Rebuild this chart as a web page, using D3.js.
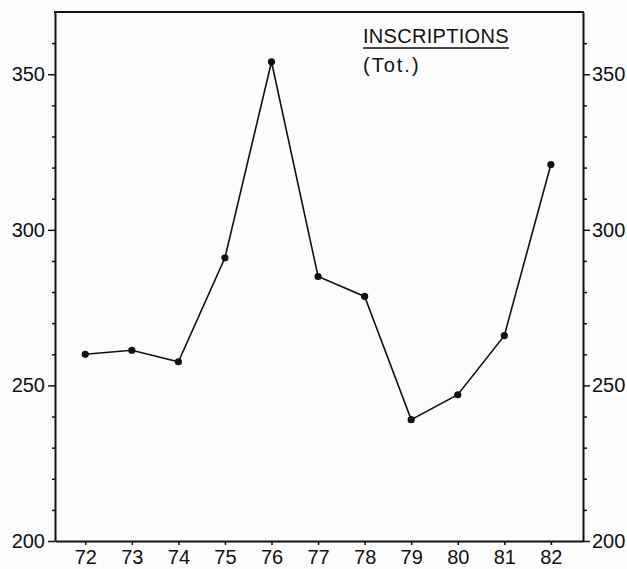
<!DOCTYPE html>
<html>
<head>
<meta charset="utf-8">
<script src="https://cdn.jsdelivr.net/npm/d3@7"></script>
<style>
  body { margin: 0; background: #fcfcfc; }
  svg { display: block; }
</style>
</head>
<body>
<script>
const years = [72, 73, 74, 75, 76, 77, 78, 79, 80, 81, 82];
const inscriptions = [260, 261.3, 257.6, 291, 354, 285, 278.6, 239, 247, 266, 321];
const yMajorTicks = [200, 250, 300, 350];
const title = "INSCRIPTIONS";
const subtitle = "(Tot.)";

const width = 627;
const height = 569;
const plotLeft = 55, plotRight = 583, plotTop = 12, plotBottom = 541;
const font = "'Liberation Sans', 'DejaVu Sans', sans-serif";

const svg = d3.select("body")
  .append("svg")
  .attr("width", width)
  .attr("height", height)
  .style("background-color", "#fcfcfc");

const x = d3.scaleLinear().domain([71.35, 82.69]).range([plotLeft, plotRight]);
const y = d3.scaleLinear().domain([200, 370]).range([plotBottom, plotTop]);

const minorTicks = d3.range(210, 370, 10).filter(v => v % 50 !== 0);

// left axis: long ticks with labels, short ticks every 10
svg.append("g")
  .attr("transform", `translate(${plotLeft},0)`)
  .call(d3.axisLeft(y).tickValues(yMajorTicks).tickSize(7).tickPadding(3).tickSizeOuter(0));
svg.append("g")
  .attr("transform", `translate(${plotLeft},0)`)
  .call(d3.axisLeft(y).tickValues(minorTicks).tickSize(3).tickFormat("").tickSizeOuter(0))
  .call(g => g.select(".domain").remove());

svg.append("g")
  .attr("transform", `translate(${plotRight},0)`)
  .call(d3.axisRight(y).tickValues(yMajorTicks).tickSize(7).tickPadding(2).tickSizeOuter(0));
svg.append("g")
  .attr("transform", `translate(${plotRight},0)`)
  .call(d3.axisRight(y).tickValues(minorTicks).tickSize(4).tickFormat("").tickSizeOuter(0))
  .call(g => g.select(".domain").remove());

svg.append("g")
  .attr("transform", `translate(0,${plotBottom})`)
  .call(d3.axisBottom(x).tickValues(years).tickSize(4).tickPadding(5).tickSizeOuter(0));

// top edge of the frame
svg.append("line")
  .attr("x1", plotLeft - 1)
  .attr("x2", plotRight + 1)
  .attr("y1", plotTop)
  .attr("y2", plotTop)
  .attr("stroke", "#111")
  .attr("stroke-width", 2);

svg.selectAll(".domain")
  .attr("stroke", "#111")
  .attr("stroke-width", 2);
svg.selectAll(".tick line")
  .attr("stroke", "#111")
  .attr("stroke-width", 1.5);
svg.selectAll(".tick text")
  .style("font-family", font)
  .style("font-size", "20px")
  .attr("fill", "#111");

// data line
const line = d3.line()
  .x((d, i) => x(years[i]))
  .y(d => y(d));

svg.append("path")
  .datum(inscriptions)
  .attr("d", line)
  .attr("fill", "none")
  .attr("stroke", "#111")
  .attr("stroke-width", 1.6);

svg.selectAll(".dot")
  .data(inscriptions)
  .enter()
  .append("circle")
  .attr("class", "dot")
  .attr("cx", (d, i) => x(years[i]))
  .attr("cy", d => y(d))
  .attr("r", 3.6)
  .attr("fill", "#111");

// title
svg.append("text")
  .attr("x", 363)
  .attr("y", 43)
  .text(title)
  .style("font-family", font)
  .style("font-size", "20px")
  .style("letter-spacing", "0.3px")
  .attr("fill", "#111");

svg.append("line")
  .attr("x1", 363)
  .attr("x2", 509)
  .attr("y1", 48)
  .attr("y2", 48)
  .attr("stroke", "#111")
  .attr("stroke-width", 1.5);

svg.append("text")
  .attr("x", 363)
  .attr("y", 72)
  .text(subtitle)
  .style("font-family", font)
  .style("font-size", "20px")
  .style("letter-spacing", "2px")
  .attr("fill", "#111");
</script>
</body>
</html>
